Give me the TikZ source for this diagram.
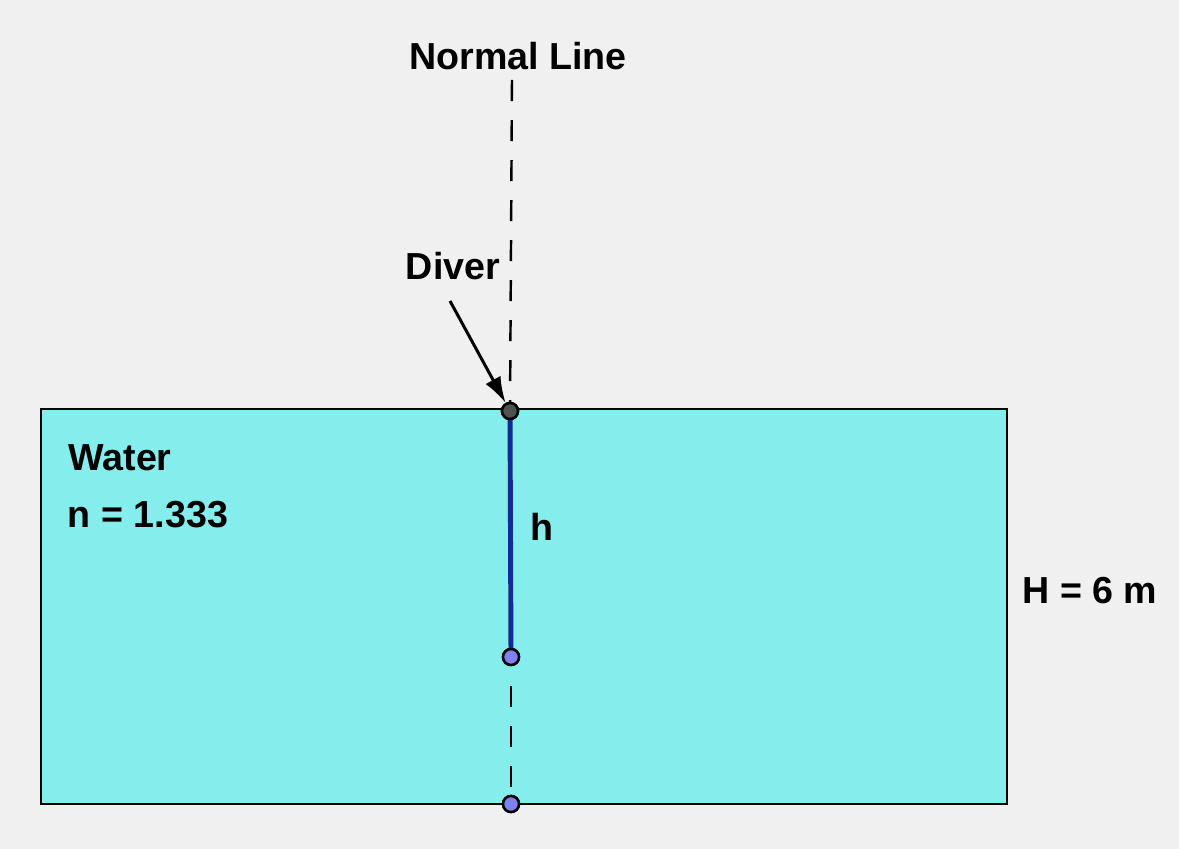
\documentclass[tikz,border=0pt]{standalone}
\usepackage{fontspec}
\setmainfont{Liberation Sans}
\usetikzlibrary{arrows.meta}

\definecolor{bgGray}{RGB}{240,240,240}
\definecolor{waterCyan}{RGB}{134,237,237}
\definecolor{hBlue}{RGB}{22,42,150}
\definecolor{dotPurple}{RGB}{128,128,238}
\definecolor{dotGray}{RGB}{80,80,80}

\begin{document}
\begin{tikzpicture}
	 [x=0.01cm,y=-0.01cm,
	  lbl/.style={font=\fontsize{10.7}{13}\selectfont\bfseries,inner sep=0pt},
	  dot/.style={circle,draw=black,line width=0.7pt,minimum size=0.16cm,inner sep=0pt,fill=dotPurple},
	  normal/.style={line width=0.7pt,dash pattern=on 0.21cm off 0.19cm}]

	  % background and water
	  \fill[bgGray] (0,0) rectangle (1179,849);
	  \useasboundingbox (0,0) rectangle (1179,849);
	  \draw[fill=waterCyan,line width=0.7pt] (41,409) rectangle (1007,804);

	  \coordinate (top) at (512,80);
	  \node (diver) [dot,fill=dotGray] at (510,411) {};
	  \node (image) [dot] at (511,657) {};
	  \node (bottom) [dot] at (511,804) {};

	  \node (nline) [lbl] at (518,56) {Normal Line};
	  \node (dlbl) [lbl] at (453,266) {Diver};
	  \coordinate (tail) at (450,301);
	  \node (water) [lbl] at (120,458) {Water};
	  \node (index) [lbl] at (148,515) {n = 1.333};
	  \node (hlbl) [lbl] at (542,527) {h};
	  \node (Hlbl) [lbl] at (1090,591) {H = 6 m};

	\draw[normal] (top) -- (diver);
	\draw[normal,shorten <=0.2cm] (image) -- (bottom);
	\draw[hBlue,line width=1.4pt] (diver) -- (image);
	\draw[line width=0.85pt,-{Latex[length=0.26cm,width=0.17cm]}] (tail) -- (diver);

	  \node [dot,fill=dotGray] at (510,411) {};
	  \node [dot] at (511,657) {};
	  \node [dot] at (511,804) {};

\end{tikzpicture}
\end{document}
